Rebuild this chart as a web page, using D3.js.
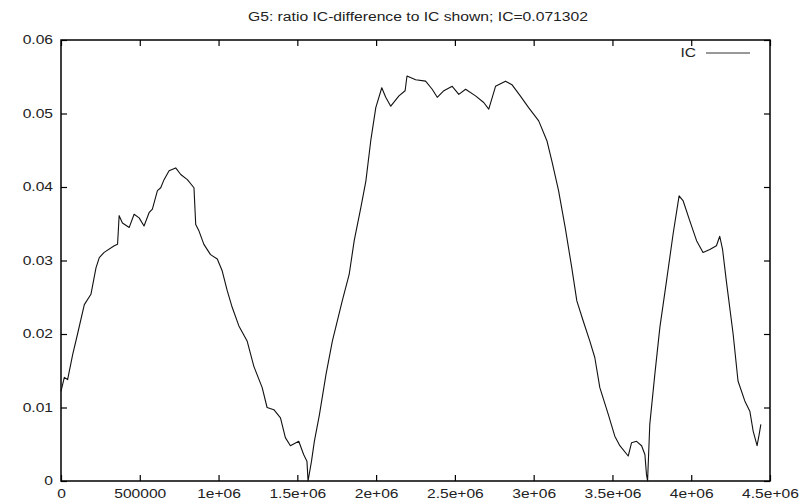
<!DOCTYPE html>
<html>
<head>
<meta charset="utf-8">
<script src="https://cdn.jsdelivr.net/npm/d3@7"></script>
<style>
  body { margin: 0; background: #fff; }
  svg { display: block; font-family: "Liberation Sans", Arial, sans-serif; }
  .axis path { display: none; }
  .axis line { stroke: #000; stroke-width: 1.2; }
  .axis text { font-size: 12px; fill: #222; }
</style>
</head>
<body>
<svg id="chart"></svg>
<script>
// position along the sequence (bp) and IC-difference ratio
const pos = [0, 21000, 42000, 74000, 105000, 148000, 190000, 222000, 243000, 274000,
  338000, 359000, 369000, 390000, 433000, 464000, 496000, 527000, 559000, 580000,
  612000, 633000, 654000, 686000, 728000, 760000, 802000, 844000, 855000, 876000,
  907000, 949000, 992000, 1023000, 1055000, 1087000, 1129000, 1182000, 1224000, 1277000,
  1308000, 1351000, 1393000, 1424000, 1456000, 1509000, 1540000, 1561000, 1568000, 1590000,
  1608000, 1640000, 1682000, 1722000, 1785000, 1829000, 1861000, 1903000, 1935000, 1966000,
  1998000, 2036000, 2061000, 2093000, 2145000, 2184000, 2196000, 2251000, 2314000, 2356000,
  2388000, 2430000, 2483000, 2525000, 2568000, 2631000, 2683000, 2715000, 2758000, 2821000,
  2863000, 2915000, 2968000, 3032000, 3084000, 3116000, 3158000, 3200000, 3242000, 3274000,
  3314000, 3357000, 3388000, 3420000, 3473000, 3515000, 3547000, 3600000, 3621000, 3653000,
  3685000, 3706000, 3716000, 3723000, 3737000, 3769000, 3801000, 3843000, 3885000, 3923000,
  3949000, 3991000, 4034000, 4075000, 4118000, 4160000, 4181000, 4199000, 4223000, 4266000,
  4297000, 4340000, 4372000, 4393000, 4418000, 4431000, 4442000]

const ic = [0.0122, 0.0141, 0.0138, 0.0172, 0.0200, 0.0240, 0.0254, 0.0290, 0.0304, 0.0311,
  0.0320, 0.0322, 0.0361, 0.0351, 0.0345, 0.0363, 0.0358, 0.0347, 0.0365, 0.0370,
  0.0395, 0.0399, 0.0410, 0.0422, 0.0426, 0.0417, 0.0410, 0.0399, 0.0349, 0.0340,
  0.0322, 0.0308, 0.0302, 0.0286, 0.0259, 0.0236, 0.0211, 0.0190, 0.0156, 0.0127,
  0.0100, 0.0097, 0.0086, 0.0059, 0.0048, 0.0054, 0.0036, 0.0027, 0.0000, 0.0027,
  0.0054, 0.0090, 0.0145, 0.0190, 0.0245, 0.0281, 0.0327, 0.0372, 0.0408, 0.0463,
  0.0508, 0.0535, 0.0522, 0.0510, 0.0524, 0.0531, 0.0551, 0.0546, 0.0544, 0.0533,
  0.0522, 0.0531, 0.0537, 0.0526, 0.0533, 0.0524, 0.0515, 0.0506, 0.0537, 0.0544,
  0.0539, 0.0524, 0.0508, 0.0490, 0.0463, 0.0435, 0.0395, 0.0345, 0.0290, 0.0245,
  0.0218, 0.0190, 0.0168, 0.0127, 0.0091, 0.0061, 0.0048, 0.0034, 0.0052, 0.0054,
  0.0048, 0.0036, 0.0009, 0.0000, 0.0077, 0.0145, 0.0209, 0.0272, 0.0336, 0.0388,
  0.0381, 0.0354, 0.0327, 0.0311, 0.0315, 0.0320, 0.0333, 0.0315, 0.0272, 0.0200,
  0.0136, 0.0109, 0.0095, 0.0068, 0.0048, 0.0063, 0.0077]

const xTicks = [0, 500000, 1000000, 1500000, 2000000, 2500000, 3000000, 3500000, 4000000, 4500000]
const xTickLabels = ['0', '500000', '1e+06', '1.5e+06', '2e+06', '2.5e+06', '3e+06', '3.5e+06', '4e+06', '4.5e+06']
const yTicks = [0, 0.01, 0.02, 0.03, 0.04, 0.05, 0.06]
const yTickLabels = ['0', '0.01', '0.02', '0.03', '0.04', '0.05', '0.06']
const title = 'G5: ratio IC-difference to IC shown; IC=0.071302'
const seriesName = 'IC'

const w = 810
const h = 502
const padL = 61, padR = 770, padT = 40, padB = 481
const stretch = 1.3

const svg = d3.select('#chart').attr('width', w).attr('height', h)

const xScale = d3.scaleLinear().domain([0, 4500000]).range([padL, padR])
const yScale = d3.scaleLinear().domain([0, 0.06]).range([padB, padT])

// bottom axis with labels
svg.append('g')
  .attr('class', 'axis')
  .attr('transform', 'translate(0,' + padB + ')')
  .call(d3.axisBottom(xScale).tickValues(xTicks)
    .tickFormat((d, i) => xTickLabels[i]).tickSizeInner(-6).tickSizeOuter(0).tickPadding(8))
  .selectAll('text').attr('transform', 'scale(' + stretch + ',1)')

svg.append('g')
  .attr('class', 'axis')
  .attr('transform', 'translate(0,' + padT + ')')
  .call(d3.axisTop(xScale).tickValues(xTicks).tickFormat('').tickSizeInner(-6).tickSizeOuter(0))

svg.append('g')
  .attr('class', 'axis')
  .attr('transform', 'translate(' + padL + ',0)')
  .call(d3.axisLeft(yScale).tickValues(yTicks)
    .tickFormat((d, i) => yTickLabels[i]).tickSizeInner(-6).tickSizeOuter(0))
  .selectAll('text')
    .attr('x', -8 / stretch)
    .attr('transform', 'scale(' + stretch + ',1)')

svg.append('g')
  .attr('class', 'axis')
  .attr('transform', 'translate(' + padR + ',0)')
  .call(d3.axisRight(yScale).tickValues(yTicks).tickFormat('').tickSizeInner(-6).tickSizeOuter(0))

// frame
svg.append('rect')
  .attr('x', padL).attr('y', padT)
  .attr('width', padR - padL).attr('height', padB - padT)
  .attr('fill', 'none').attr('stroke', '#000').attr('stroke-width', 1.5)

// title
svg.append('text')
  .attr('x', 418).attr('y', 21)
  .attr('text-anchor', 'middle')
  .attr('font-size', 12)
  .attr('fill', '#222')
  .attr('textLength', 340)
  .attr('lengthAdjust', 'spacingAndGlyphs')
  .text(title)

// the curve
const line = d3.line()
  .x((d, i) => xScale(pos[i]))
  .y(d => yScale(d))

svg.append('path')
  .datum(ic)
  .attr('d', line)
  .attr('fill', 'none')
  .attr('stroke', '#111')
  .attr('stroke-width', 1.1)
  .attr('stroke-linejoin', 'round')

// key
svg.append('text')
  .attr('transform', 'translate(696,57) scale(' + stretch + ',1)')
  .attr('text-anchor', 'end')
  .attr('font-size', 12)
  .attr('fill', '#222')
  .text(seriesName)

svg.append('line')
  .attr('x1', 706).attr('x2', 750)
  .attr('y1', 53).attr('y2', 53)
  .attr('stroke', '#333').attr('stroke-width', 1)
</script>
</body>
</html>
